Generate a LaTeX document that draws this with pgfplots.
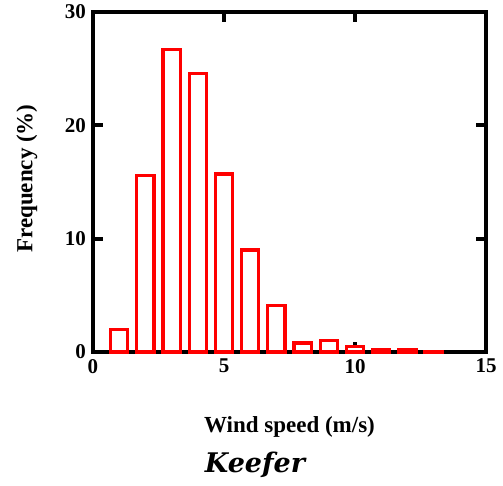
\documentclass[border=0pt]{standalone}
\usepackage{fontspec}
\setmainfont{Liberation Serif}
\newfontfamily\keeferfont{DejaVu Serif}
\usepackage{pgfplots}
\pgfplotsset{compat=1.18}

\begin{document}
\begin{tikzpicture}
  \path[use as bounding box] (-46.5pt,-67pt) rectangle (205pt,176pt);
  \begin{axis}[
      scale only axis,
      width=196.5pt, height=170pt,
      xmin=0, xmax=15, ymin=0, ymax=30,
      xtick={0,5,10,15}, ytick={0,10,20,30},
      tick align=inside,
      major tick length=5pt,
      every tick/.style={black, line width=2pt},
      axis line style={line width=2pt},
      tick label style={font=\bfseries\fontsize{10.5}{12}\selectfont},
      /pgf/number format/assume math mode=true,
      xlabel={Wind speed (m/s)},
      ylabel={Frequency (\%)},
      label style={font=\bfseries\fontsize{11.5}{13}\selectfont},
      xlabel style={at={(axis description cs:0.5,0)}, anchor=center, yshift=-37.5pt},
      ylabel style={at={(axis description cs:0,0.51)}, anchor=center, yshift=33pt},
      clip=false,
    ]
    \addplot[ybar, bar width=0.65, draw=red, fill=white, line width=1.6pt]
      coordinates {
        (1,2.0) (2,15.6) (3,26.7) (4,24.6) (5,15.7) (6,9.0) (7,4.1)
        (8,0.8) (9,1.0) (10,0.45) (11,0.25) (12,0.25) (13,0.05)
      };
  \end{axis}
  \node[font=\keeferfont\bfseries\itshape\fontsize{13.5}{16}\selectfont] at (81pt,-56.5pt) {Keefer};
\end{tikzpicture}
\end{document}
